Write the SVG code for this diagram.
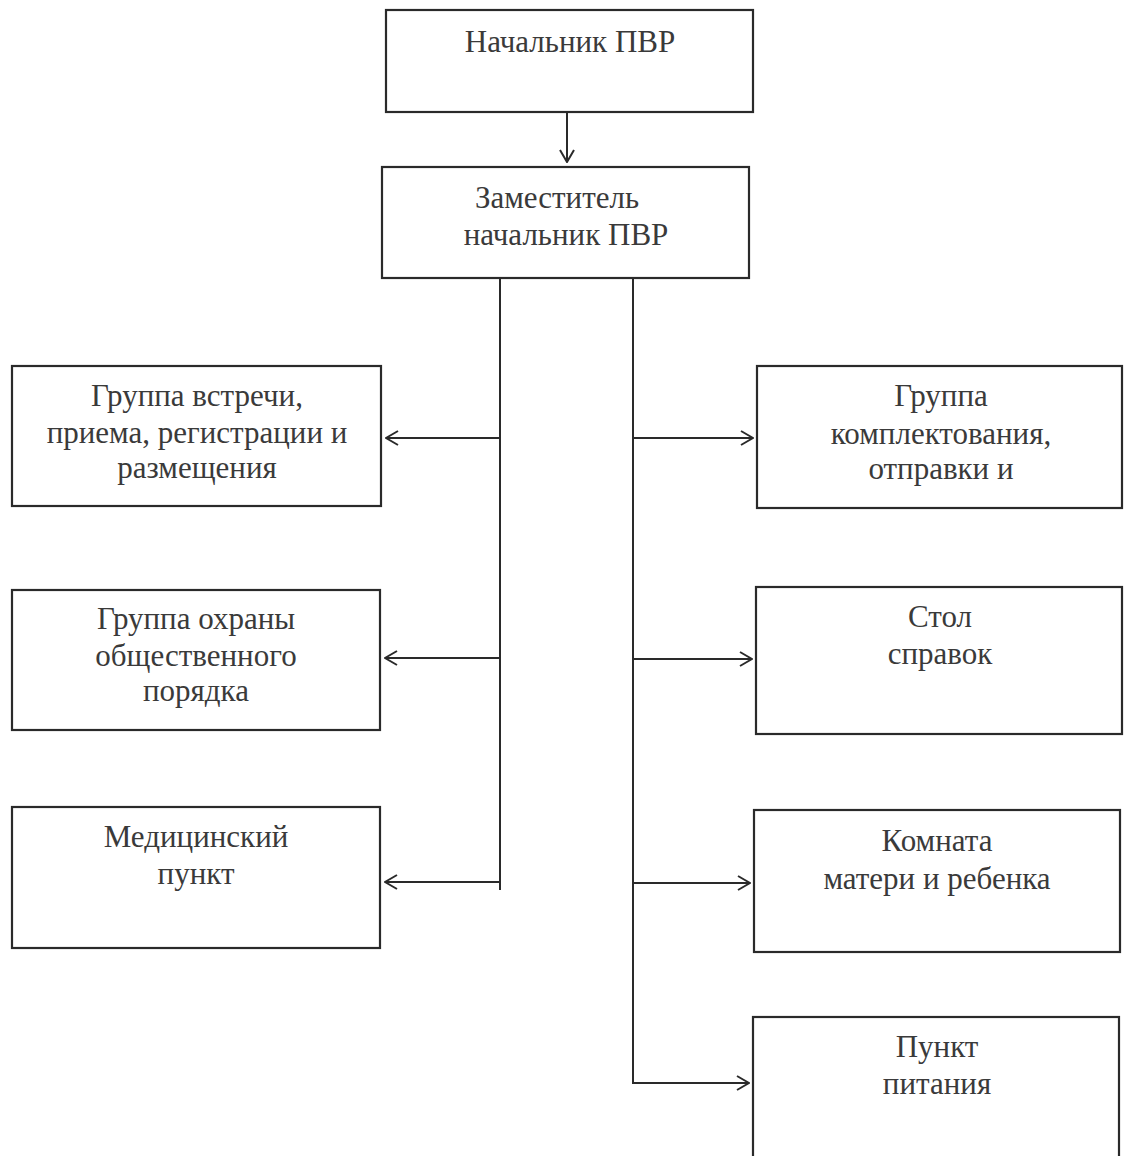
<svg xmlns="http://www.w3.org/2000/svg" width="1124" height="1156" viewBox="0 0 1124 1156">
<style>
.box{fill:#fff;stroke:#2a2a2a;stroke-width:2.2}
.t{font-family:"Liberation Serif","DejaVu Serif",serif;font-size:31px;fill:#3a3a3a;text-anchor:middle}
.c{fill:none;stroke:#2a2a2a;stroke-width:2}
</style>
<defs>
<marker id="ah" viewBox="0 0 14 16" refX="13" refY="8" markerWidth="14" markerHeight="16" markerUnits="userSpaceOnUse" orient="auto">
<path d="M1,1 L13,8 L1,15" fill="none" stroke="#2a2a2a" stroke-width="2"/>
</marker>
</defs>
<rect width="1124" height="1156" fill="#fff"/>
<g id="connectors">
<line class="c" x1="567" y1="112" x2="567" y2="162" marker-end="url(#ah)"/>
<line class="c" x1="500" y1="278" x2="500" y2="890"/>
<line class="c" x1="633" y1="278" x2="633" y2="1083"/>
<line class="c" x1="500" y1="438" x2="386" y2="438" marker-end="url(#ah)"/>
<line class="c" x1="500" y1="658" x2="385" y2="658" marker-end="url(#ah)"/>
<line class="c" x1="500" y1="882" x2="385" y2="882" marker-end="url(#ah)"/>
<line class="c" x1="633" y1="438" x2="753" y2="438" marker-end="url(#ah)"/>
<line class="c" x1="633" y1="659" x2="752" y2="659" marker-end="url(#ah)"/>
<line class="c" x1="633" y1="883" x2="750" y2="883" marker-end="url(#ah)"/>
<line class="c" x1="632" y1="1083" x2="749" y2="1083" marker-end="url(#ah)"/>
</g>
<g id="n1"><rect class="box" x="386" y="10" width="367" height="102"/><text class="t" x="570" y="52">Начальник ПВР</text></g>
<g id="n2"><rect class="box" x="382" y="167" width="367" height="111"/><text class="t" x="557" y="208">Заместитель</text><text class="t" x="566" y="245">начальник ПВР</text></g>
<g id="n3"><rect class="box" x="12" y="366" width="369" height="140"/><text class="t" x="197" y="406">Группа встречи,</text><text class="t" x="197" y="443">приема, регистрации и</text><text class="t" x="197" y="478">размещения</text></g>
<g id="n4"><rect class="box" x="12" y="590" width="368" height="140"/><text class="t" x="196" y="629">Группа охраны</text><text class="t" x="196" y="666">общественного</text><text class="t" x="196" y="701">порядка</text></g>
<g id="n5"><rect class="box" x="12" y="807" width="368" height="141"/><text class="t" x="196" y="847">Медицинский</text><text class="t" x="196" y="884">пункт</text></g>
<g id="n6"><rect class="box" x="757" y="366" width="365" height="142"/><text class="t" x="941" y="406">Группа</text><text class="t" x="941" y="444">комплектования,</text><text class="t" x="941" y="479">отправки и</text></g>
<g id="n7"><rect class="box" x="756" y="587" width="366" height="147"/><text class="t" x="940" y="627">Стол</text><text class="t" x="940" y="664">справок</text></g>
<g id="n8"><rect class="box" x="754" y="810" width="366" height="142"/><text class="t" x="937" y="851">Комната</text><text class="t" x="937" y="889">матери и ребенка</text></g>
<g id="n9"><rect class="box" x="753" y="1017" width="366" height="150"/><text class="t" x="937" y="1057">Пункт</text><text class="t" x="937" y="1094">питания</text></g>
</svg>
